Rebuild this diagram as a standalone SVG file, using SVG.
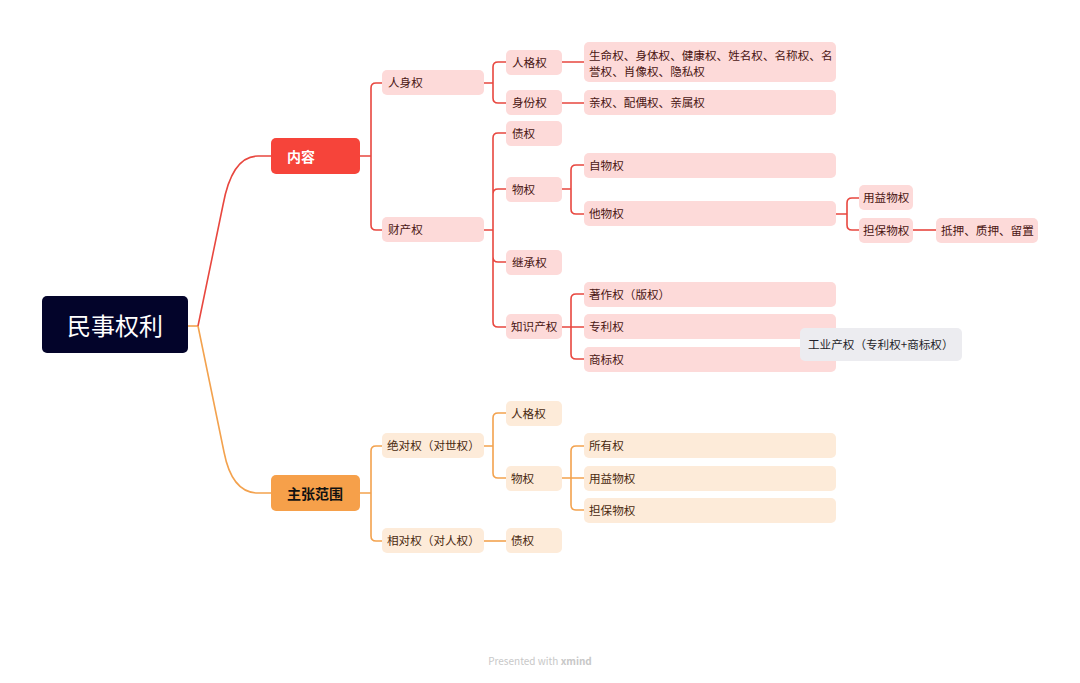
<svg xmlns="http://www.w3.org/2000/svg" width="1080" height="683" viewBox="0 0 1080 683">
<style>
text{font-family:"Noto Sans CJK SC","Noto Sans",sans-serif}
.r{fill:#fddad9}
.o{fill:#fdebd9}
.tr{font-size:11.6px;fill:#4a1613}
.to{font-size:11.6px;fill:#4a2a10}
.lr{fill:none;stroke:#e8473f;stroke-width:1.6}
.lo{fill:none;stroke:#f3a24e;stroke-width:1.6}
</style>
<rect width="1080" height="683" fill="#ffffff"/>
<g id="connectors">
<path class="lo" d="M188,326 H198"/>
<path class="lr" d="M198,326 L223,205 Q232,156 258,156 H271"/>
<path class="lo" d="M198,326 L224,452 Q232,493 258,493 H271"/>
<path class="lr" d="M360,156 H371 M371,156 V88 Q371,83 376,83 H382 M371,156 V225 Q371,230 376,230 H382"/>
<path class="lr" d="M484,83 H493 M493,83 V67 Q493,62 498,62 H506 M493,83 V98 Q493,103 498,103 H506"/>
<path class="lr" d="M562,62 H584 M562,103 H584"/>
<path class="lr" d="M484,230 H493 M493,230 V138 Q493,133 498,133 H506 M493,230 V194 Q493,189 498,189 H506 M493,230 V257 Q493,262 498,262 H506 M493,230 V322 Q493,327 498,327 H506"/>
<path class="lr" d="M562,189 H571 M571,189 V170 Q571,165 576,165 H584 M571,189 V209 Q571,214 576,214 H584"/>
<path class="lr" d="M836,214 H847 M847,214 V203 Q847,198 852,198 H859 M847,214 V225 Q847,230 852,230 H859"/>
<path class="lr" d="M913,230 H936"/>
<path class="lr" d="M562,327 H584 M571,327 V299 Q571,294 576,294 H584 M571,327 V354 Q571,359 576,359 H584"/>
<path class="lo" d="M360,493 H371 M371,493 V451 Q371,446 376,446 H382 M371,493 V536 Q371,541 376,541 H382"/>
<path class="lo" d="M484,446 H493 M493,446 V418 Q493,413 498,413 H506 M493,446 V473 Q493,478 498,478 H506"/>
<path class="lo" d="M484,541 H506"/>
<path class="lo" d="M562,478 H584 M571,478 V451 Q571,446 576,446 H584 M571,478 V505 Q571,510 576,510 H584"/>
</g>
<g id="root"><rect x="42" y="296" width="146" height="57" rx="5" fill="#03042a"/><text x="115" y="334.5" font-size="24" fill="#ffffff" text-anchor="middle">民事权利</text></g>
<g id="neirong"><rect x="271" y="138" width="89" height="36" rx="5" fill="#f6443a"/><text x="287" y="161.5" font-size="14" font-weight="bold" fill="#ffffff">内容</text></g>
<g id="zhuzhang"><rect x="271" y="475" width="89" height="36" rx="5" fill="#f6a04a"/><text x="287" y="498.5" font-size="14" font-weight="bold" fill="#111111">主张范围</text></g>

<g id="renshenquan"><rect class="r" x="382" y="70" width="102" height="25" rx="5"/><text class="tr" x="388" y="87">人身权</text></g>
<g id="caichanquan"><rect class="r" x="382" y="217" width="102" height="25" rx="5"/><text class="tr" x="388" y="234">财产权</text></g>
<g id="rengequan1"><rect class="r" x="506" y="50" width="56" height="25" rx="5"/><text class="tr" x="512" y="67">人格权</text></g>
<g id="shenfenquan"><rect class="r" x="506" y="90" width="56" height="25" rx="5"/><text class="tr" x="512" y="107">身份权</text></g>
<g id="rengelist"><rect class="r" x="584" y="42" width="252" height="40" rx="5"/><text class="tr" x="589" y="60">生命权、身体权、健康权、姓名权、名称权、名</text><text class="tr" x="589" y="76">誉权、肖像权、隐私权</text></g>
<g id="shenfenlist"><rect class="r" x="584" y="90" width="252" height="25" rx="5"/><text class="tr" x="589" y="107">亲权、配偶权、亲属权</text></g>
<g id="zhaiquan1"><rect class="r" x="506" y="121" width="56" height="25" rx="5"/><text class="tr" x="512" y="138">债权</text></g>
<g id="wuquan1"><rect class="r" x="506" y="177" width="56" height="25" rx="5"/><text class="tr" x="512" y="194">物权</text></g>
<g id="jichengquan"><rect class="r" x="506" y="250" width="56" height="25" rx="5"/><text class="tr" x="512" y="267">继承权</text></g>
<g id="zhishichanquan"><rect class="r" x="506" y="314" width="56" height="25" rx="5"/><text class="tr" x="511" y="331">知识产权</text></g>
<g id="ziwuquan"><rect class="r" x="584" y="153" width="252" height="25" rx="5"/><text class="tr" x="589" y="170">自物权</text></g>
<g id="tawuquan"><rect class="r" x="584" y="201" width="252" height="25" rx="5"/><text class="tr" x="589" y="218">他物权</text></g>
<g id="yongyi1"><rect class="r" x="859" y="185" width="54" height="25" rx="5"/><text class="tr" x="863" y="202">用益物权</text></g>
<g id="danbao1"><rect class="r" x="859" y="218" width="54" height="25" rx="5"/><text class="tr" x="863" y="235">担保物权</text></g>
<g id="diya"><rect class="r" x="936" y="218" width="102" height="25" rx="5"/><text class="tr" x="941" y="235">抵押、质押、留置</text></g>
<g id="zhuzuoquan"><rect class="r" x="584" y="282" width="252" height="25" rx="5"/><text class="tr" x="589" y="299">著作权（版权）</text></g>
<g id="zhuanliquan"><rect class="r" x="584" y="314" width="252" height="25" rx="5"/><text class="tr" x="589" y="331">专利权</text></g>
<g id="shangbiaoquan"><rect class="r" x="584" y="347" width="252" height="25" rx="5"/><text class="tr" x="589" y="364">商标权</text></g>
<g id="gongye"><rect x="800" y="328" width="162" height="33" rx="5" fill="#ececf0"/><text x="808" y="349" font-size="11.6" fill="#1f1f2a">工业产权（专利权+商标权）</text></g>

<g id="jueduiquan"><rect class="o" x="382" y="433" width="102" height="25" rx="5"/><text class="to" x="387" y="450">绝对权（对世权）</text></g>
<g id="xiangduiquan"><rect class="o" x="382" y="528" width="102" height="25" rx="5"/><text class="to" x="387" y="545">相对权（对人权）</text></g>
<g id="rengequan2"><rect class="o" x="506" y="401" width="56" height="25" rx="5"/><text class="to" x="511" y="418">人格权</text></g>
<g id="wuquan2"><rect class="o" x="506" y="466" width="56" height="25" rx="5"/><text class="to" x="511" y="483">物权</text></g>
<g id="zhaiquan2"><rect class="o" x="506" y="528" width="56" height="25" rx="5"/><text class="to" x="511" y="545">债权</text></g>
<g id="suoyouquan"><rect class="o" x="584" y="433" width="252" height="25" rx="5"/><text class="to" x="589" y="450">所有权</text></g>
<g id="yongyi2"><rect class="o" x="584" y="466" width="252" height="25" rx="5"/><text class="to" x="589" y="483">用益物权</text></g>
<g id="danbao2"><rect class="o" x="584" y="498" width="252" height="25" rx="5"/><text class="to" x="589" y="515">担保物权</text></g>

<text x="540" y="665" font-size="10" fill="#c8c8c8" text-anchor="middle" font-family="Inter,'Liberation Sans',sans-serif">Presented with <tspan font-weight="bold">xmind</tspan></text>
</svg>
